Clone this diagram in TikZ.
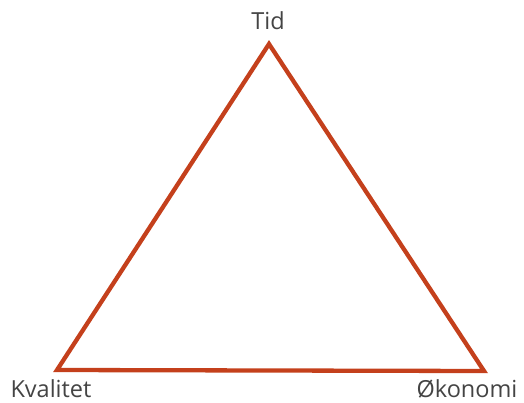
\documentclass[tikz,border=0pt]{standalone}
\usepackage{fontspec}
\setmainfont{Open Sans}
\usetikzlibrary{positioning}

\definecolor{edgered}{HTML}{C4401C}
\definecolor{labelgray}{HTML}{444444}

\begin{document}
\begin{tikzpicture}[
    x=1pt, y=-1pt,
    corner/.style={font=\fontsize{23.5}{26}\selectfont, text=labelgray, inner sep=0pt, anchor=base},
    side/.style={draw=edgered, line width=4.3pt, line join=miter}
]
\useasboundingbox (0,0) rectangle (524,403);
\coordinate (top) at (269,44);
\coordinate (left) at (57,370);
\coordinate (right) at (484,371);
\draw[side] (top) -- (left) -- (right) -- cycle;
% hjørner
\node[corner] (tid) at (268,30) {Tid};
\node[corner] (kvalitet) at (51,397) {Kvalitet};
\node[corner] (okonomi) at (467,397) {Økonomi};
\end{tikzpicture}
\end{document}
